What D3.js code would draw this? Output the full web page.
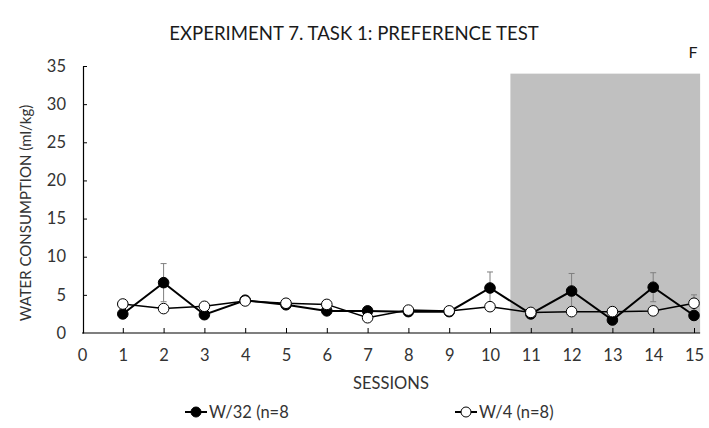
<!DOCTYPE html>
<html>
<head>
<meta charset="utf-8">
<script src="https://cdn.jsdelivr.net/npm/d3@7"></script>
<style>
  body { margin: 0; background: #fff; }
  text { font-family: Lato, "Open Sans", sans-serif; }
</style>
</head>
<body>
<div class="canvas"></div>
<script>
const sessions = [1, 2, 3, 4, 5, 6, 7, 8, 9, 10, 11, 12, 13, 14, 15];
const w32 = [2.5, 6.6, 2.4, 4.3, 3.7, 2.9, 2.9, 2.8, 2.8, 5.9, 2.5, 5.5, 1.7, 6.0, 2.3];
const w32Err = [0, 2.5, 0, 0, 0, 0, 0, 0, 0, 2.1, 0, 2.3, 0, 1.9, 0];
const w4 = [3.8, 3.2, 3.5, 4.2, 3.9, 3.75, 2.0, 3.0, 2.9, 3.45, 2.7, 2.8, 2.8, 2.9, 3.9];
const w4Err = [0, 0, 0, 0, 0, 0, 0, 0, 0, 0, 0, 0, 0.6, 0, 1.1];
const xTicks = [0, 1, 2, 3, 4, 5, 6, 7, 8, 9, 10, 11, 12, 13, 14, 15];
const yTicks = [0, 5, 10, 15, 20, 25, 30, 35];
const shade = { from: 10.5, to: 15.15, top: 34 };

const svg = d3.select('.canvas')
  .append('svg')
  .attr('width', 709)
  .attr('height', 428);

const x = d3.scaleLinear().domain([0, 15]).range([82, 694]);
const y = d3.scaleLinear().domain([0, 35]).range([333, 66]);

// shaded phase
svg.append('rect')
  .attr('x', x(shade.from))
  .attr('y', y(shade.top))
  .attr('width', x(shade.to) - x(shade.from))
  .attr('height', y(0) - y(shade.top))
  .attr('fill', '#c0c0c0');

// axes
const xAxis = svg.append('g')
  .attr('transform', `translate(0, ${y(0)})`)
  .call(d3.axisBottom(x).tickValues(xTicks).tickSizeInner(-5).tickSizeOuter(0).tickPadding(16));
xAxis.select('.domain').attr('d', `M${x(0)},0H${x(15.15)}`);
xAxis.selectAll('.tick line').filter(d => d === 0).remove();

const yAxis = svg.append('g')
  .attr('transform', `translate(${x(0) + 1}, 0)`)
  .call(d3.axisLeft(y).tickValues(yTicks).tickSizeInner(-4).tickSizeOuter(0).tickPadding(17));
yAxis.selectAll('.tick line').filter(d => d === 0).remove();

svg.selectAll('.domain').attr('stroke', '#000').attr('stroke-width', 1.2);
svg.selectAll('.tick line').attr('stroke', '#000');
svg.selectAll('.tick text')
  .attr('font-size', 16.5)
  .attr('fill', '#333')
  .attr('font-family', 'Lato, sans-serif');

// error bars
function errorBars(vals, errs, cls) {
  const g = svg.append('g').attr('class', cls)
    .attr('stroke', '#7f7f7f').attr('stroke-width', 1);
  sessions.forEach((s, i) => {
    if (!errs[i]) return;
    const cx = x(s), hi = y(vals[i] + errs[i]), lo = y(vals[i] - errs[i]);
    g.append('line').attr('x1', cx).attr('x2', cx).attr('y1', hi).attr('y2', lo);
    g.append('line').attr('x1', cx - 3).attr('x2', cx + 3).attr('y1', hi).attr('y2', hi);
    g.append('line').attr('x1', cx - 3).attr('x2', cx + 3).attr('y1', lo).attr('y2', lo);
  });
}
errorBars(w32, w32Err, 'err32');
errorBars(w4, w4Err, 'err4');

const line = d3.line().x(d => x(d[0])).y(d => y(d[1]));

function series(vals, fill, width) {
  const pts = sessions.map((s, i) => [s, vals[i]]);
  svg.append('path')
    .attr('d', line(pts))
    .attr('fill', 'none')
    .attr('stroke', '#000')
    .attr('stroke-width', width);
  svg.append('g').selectAll('circle')
    .data(pts)
    .join('circle')
    .attr('cx', d => x(d[0]))
    .attr('cy', d => y(d[1]))
    .attr('r', 5.3)
    .attr('fill', fill)
    .attr('stroke', '#000')
    .attr('stroke-width', 1);
}
series(w32, '#000', 2);
series(w4, '#fff', 1.5);

// titles
svg.append('text')
  .attr('x', 354).attr('y', 40)
  .attr('text-anchor', 'middle')
  .attr('font-size', 18.6)
  .attr('fill', '#1a1a1a')
  .text('EXPERIMENT 7. TASK 1: PREFERENCE TEST');

svg.append('text')
  .attr('x', 693).attr('y', 58)
  .attr('text-anchor', 'middle')
  .attr('font-size', 16)
  .attr('fill', '#1a1a1a')
  .text('F');

svg.append('text')
  .attr('transform', 'translate(31, 213) rotate(-90)')
  .attr('text-anchor', 'middle')
  .attr('font-size', 15)
  .attr('fill', '#333')
  .text('WATER CONSUMPTION (ml/kg)');

svg.append('text')
  .attr('x', 391).attr('y', 389)
  .attr('text-anchor', 'middle')
  .attr('font-size', 16.5)
  .attr('fill', '#333')
  .text('SESSIONS');

// legend
const legend = [
  { label: 'W/32 (n=8', fill: '#000', lx: 185 },
  { label: 'W/4 (n=8)', fill: '#fff', lx: 455 }
];
legend.forEach(d => {
  const g = svg.append('g').attr('transform', `translate(${d.lx}, 412)`);
  g.append('line').attr('x1', 0).attr('x2', 22).attr('y1', 0).attr('y2', 0)
    .attr('stroke', '#000').attr('stroke-width', 2);
  g.append('circle').attr('cx', 11).attr('cy', 0).attr('r', 5)
    .attr('fill', d.fill).attr('stroke', '#000');
  g.append('text').attr('x', 24).attr('y', 6)
    .attr('font-size', 16.5).attr('fill', '#333')
    .text(d.label);
});
</script>
</body>
</html>
